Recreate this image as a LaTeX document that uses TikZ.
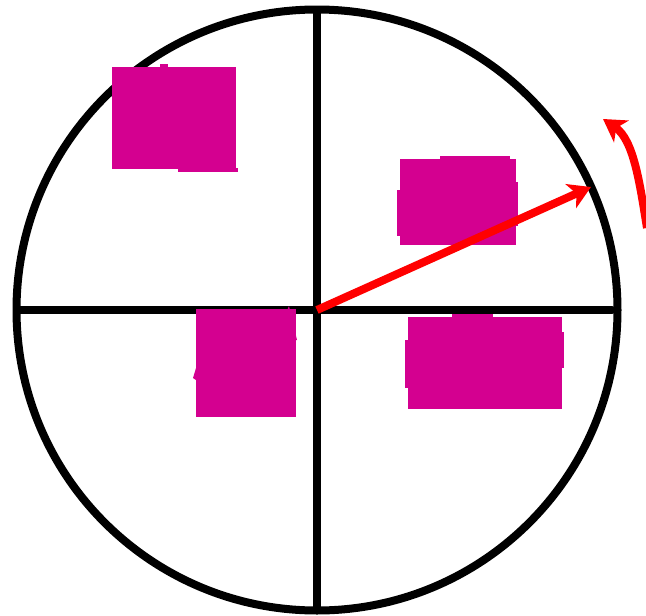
\documentclass[tikz,border=0pt]{standalone}
\usetikzlibrary{arrows.meta}
\definecolor{redact}{RGB}{212,0,144}
\definecolor{arrowred}{RGB}{255,0,0}
\begin{document}
\begin{tikzpicture}[x=1pt,y=-1pt,
  wheel/.style={line width=8pt,black,line cap=round},
  redbox/.style={fill=redact,draw=none,inner sep=0pt,outer sep=0pt},
  redarrow/.style={line width=8pt,arrowred,-{Stealth[length=22pt,width=26pt,inset=6pt]}},
  bit/.style={fill=redact,draw=none}]
\useasboundingbox (0,0) rectangle (646,616);
\coordinate (c) at (317,310);
\coordinate (top) at (317,10);
\coordinate (bot) at (317,610);
\coordinate (lft) at (18,310);
\coordinate (rgt) at (612,310);
\draw[wheel] (c) ellipse [x radius=300.5, y radius=300.5];
\draw[wheel] (top) -- (bot);
\draw[wheel] (lft) -- (rgt);
% redacted text blocks
\node[redbox,minimum width=124pt,minimum height=102pt] (b1) at (174,118) {};
\node[redbox,minimum width=116pt,minimum height=86pt] (b2) at (458,202) {};
\node[redbox,minimum width=100pt,minimum height=108pt] (b3) at (246,363) {};
\node[redbox,minimum width=154pt,minimum height=92pt] (b4) at (485,363) {};
% ragged edges
\fill[bit] (178,168) rectangle (238,172);
\fill[bit] (160,67) rectangle (168,64);
\fill[bit] (440,160) rectangle (510,156);
\fill[bit] (397,190) rectangle (400,236);
\fill[bit] (515,182) rectangle (518,226);
\fill[bit] (282,322) -- (289,306) -- (297,340) -- (294,340) -- cycle;
\fill[bit] (196,368) -- (193,378) -- (196,380) -- cycle;
\fill[bit] (405,340) rectangle (408,388);
\fill[bit] (452,317) rectangle (493,314);
\fill[bit] (562,332) rectangle (564,368);
% arrows
\coordinate (tip) at (591,187);
\draw[redarrow] (c) -- (tip);
\coordinate (cs) at (647,228);
\coordinate (ce) at (603,119);
\draw[redarrow] (cs) .. controls (640,185) and (634,140) .. (ce);
\end{tikzpicture}
\end{document}
